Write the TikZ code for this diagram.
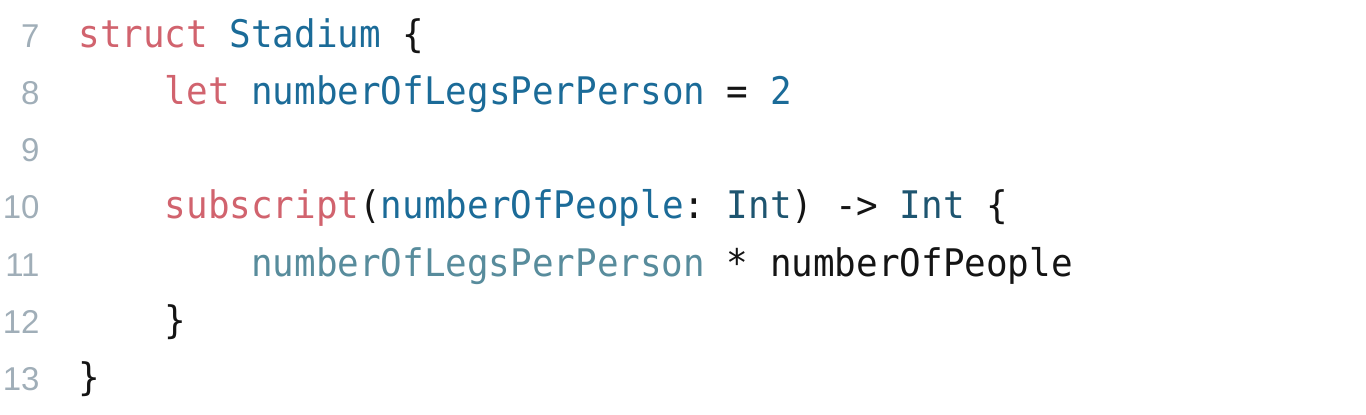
\documentclass[tikz,border=0pt]{standalone}
\usepackage{fontspec}
\usepackage{xcolor}
\usepackage{tikz}

\newfontfamily\codefont[FakeStretch=0.945]{DejaVu Sans Mono}
\newfontfamily\numfont{Liberation Sans}

\definecolor{kwred}{RGB}{209,99,110}
\definecolor{idblue}{RGB}{27,107,152}
\definecolor{typeblue}{RGB}{30,85,112}
\definecolor{memteal}{RGB}{88,140,156}
\definecolor{numgray}{RGB}{160,174,184}
\definecolor{plaintext}{RGB}{20,20,20}

\newcommand{\kw}[1]{\textcolor{kwred}{#1}}
\newcommand{\ident}[1]{\textcolor{idblue}{#1}}
\newcommand{\tname}[1]{\textcolor{typeblue}{#1}}
\newcommand{\member}[1]{\textcolor{memteal}{#1}}

\frenchspacing

\begin{document}
\begin{tikzpicture}[x=0.5pt,y=-0.5pt,
    lnum/.style={anchor=base east, inner sep=0pt, text=numgray, font=\numfont\fontsize{16.5}{16.5}\selectfont},
    codeline/.style={anchor=base west, inner sep=0pt, text=plaintext, font=\codefont\fontsize{19}{19}\selectfont}]
  \useasboundingbox (0,0) rectangle (1366,414);

  % line numbers
  \foreach \n in {7,...,13}
    \node[lnum] (ln\n) at (40, {47+(\n-7)*57.3}) {\n}; %

  % code, indent in characters
  \node[codeline] (code7) at ({78+0*21.6}, 47) {\kw{struct} \ident{Stadium} \{}; %
  \node[codeline] (code8) at ({78+4*21.6}, 104.3) {\kw{let} \ident{numberOfLegsPerPerson} = \ident{2}}; %
  \node[codeline] (code10) at ({78+4*21.6}, 218.9) {\kw{subscript}(\ident{numberOfPeople}: \tname{Int}) -> \tname{Int} \{}; %
  \node[codeline] (code11) at ({78+8*21.6}, 276.2) {\member{numberOfLegsPerPerson} * numberOfPeople}; %
  \node[codeline] (code12) at ({78+4*21.6}, 333.5) {\}}; %
  \node[codeline] (code13) at ({78+0*21.6}, 390.8) {\}}; %
\end{tikzpicture}
\end{document}
